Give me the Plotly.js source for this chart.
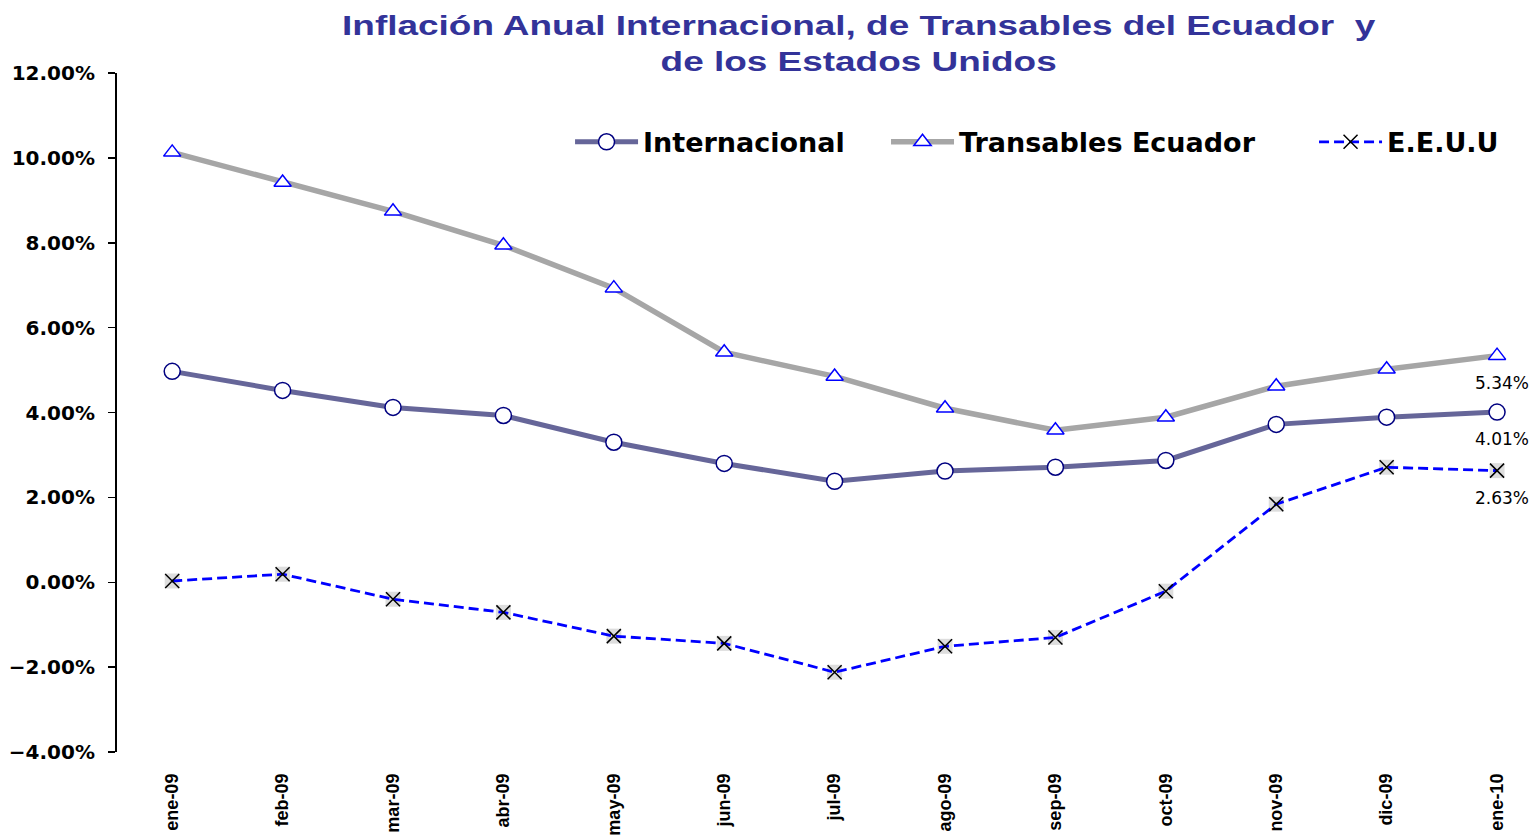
<!DOCTYPE html>
<html>
<head>
<meta charset="utf-8">
<script src="https://cdn.plot.ly/plotly-3.0.1.min.js"></script>
<style>
html,body{margin:0;padding:0;background:#fff;}
#chart{width:1539px;height:839px;}
#chart .gtitle{transform-box:fill-box;transform-origin:center;transform:scaleX(1.32);}
</style>
</head>
<body>
<div id="chart"></div>
<script>
const months = ["ene-09","feb-09","mar-09","abr-09","may-09","jun-09","jul-09","ago-09","sep-09","oct-09","nov-09","dic-09","ene-10"];
const internacional = [4.97, 4.52, 4.12, 3.93, 3.30, 2.80, 2.38, 2.62, 2.71, 2.87, 3.72, 3.89, 4.01];
const transables = [10.13, 9.42, 8.74, 7.94, 6.93, 5.42, 4.85, 4.10, 3.58, 3.89, 4.62, 5.02, 5.34];
const eeuu = [0.03, 0.19, -0.40, -0.71, -1.27, -1.44, -2.12, -1.51, -1.30, -0.21, 1.84, 2.71, 2.63];
const seriesNames = ["Internacional", "Transables Ecuador", "E.E.U.U"];

const FONT = "Liberation Sans, Arial, sans-serif";
const WIDE = "DejaVu Sans, sans-serif";
const last = months.length - 1;

const traces = [
  {
    x: months, y: transables, name: seriesNames[1], type: "scatter", mode: "lines+markers",
    legend: "legend2",
    line: {color: "#A6A6A6", width: 5.5},
    marker: {symbol: "triangle-up", size: 15, color: "#FFFFFF", line: {color: "#0000FF", width: 1.5}}
  },
  {
    x: months, y: internacional, name: seriesNames[0], type: "scatter", mode: "lines+markers",
    legend: "legend",
    line: {color: "#666699", width: 5},
    marker: {symbol: "circle", size: 16, color: "#FFFFFF", line: {color: "#000080", width: 1.5}}
  },
  {
    x: months, y: eeuu, name: "fondo", type: "scatter", mode: "markers", showlegend: false, hoverinfo: "skip",
    marker: {symbol: "square", size: 15, color: "#DDDDDD", line: {width: 0}}
  },
  {
    x: months, y: eeuu, name: seriesNames[2], type: "scatter", mode: "lines+markers",
    legend: "legend3",
    line: {color: "#0000FF", width: 2.8, dash: "10px,5px"},
    marker: {symbol: "x-thin", size: 14, color: "#000000", line: {color: "#000000", width: 1.5}}
  }
];

const labelSeries = [transables, internacional, eeuu];
const annotations = labelSeries.map(arr => ({
  x: months[last], y: arr[last], xref: "x", yref: "y",
  text: arr[last].toFixed(2) + "%", showarrow: false,
  xshift: 5, yshift: -27,
  font: {family: WIDE, size: 17, color: "#000"}
}));

const legendFont = {family: WIDE, size: 27, color: "#000", weight: "bold"};
function mkLegend(x){
  return {orientation: "h", x: x, xanchor: "left", y: 0.898, yanchor: "middle",
          font: legendFont, itemwidth: 63, bgcolor: "rgba(0,0,0,0)"};
}

const xr = [-0.5, 12.38];
const layout = {
  width: 1539, height: 839,
  margin: {l: 117, r: 0, t: 73, b: 87, autoexpand: false},
  paper_bgcolor: "#FFFFFF", plot_bgcolor: "#FFFFFF",
  font: {family: FONT, color: "#000"},
  title: {
    text: "Inflación Anual Internacional, de Transables del Ecuador  y<br>de los Estados Unidos",
    font: {family: FONT, size: 28, color: "#333399", weight: "bold"},
    x: 0.558, xref: "container", xanchor: "center",
    y: 0.9588, yref: "container", yanchor: "top"
  },
  showlegend: true,
  legend: mkLegend(0.3186),
  legend2: mkLegend(0.5408),
  legend3: mkLegend(0.8418),
  annotations: annotations,
  xaxis: {
    type: "category", range: xr, showline: false, ticks: "", showgrid: false, zeroline: false,
    tickangle: -90, tickfont: {family: FONT, size: 18, color: "#000", weight: "bold"},
    ticklabelstandoff: 17, automargin: false
  },
  xaxis2: {
    type: "linear", overlaying: "x", anchor: "free", position: 0.25, range: xr,
    tick0: 0.5, dtick: 1, ticks: "outside", ticklen: 7, tickwidth: 1.5, tickcolor: "#000",
    showline: true, linecolor: "#000", linewidth: 2.5, showticklabels: false, showgrid: false, zeroline: false
  },
  yaxis: {
    range: [-4, 12], dtick: 2, tickformat: ".2f", ticksuffix: "%",
    showline: true, linecolor: "#000", linewidth: 2, ticks: "outside", ticklen: 7, tickwidth: 1.5, tickcolor: "#000",
    showgrid: false, zeroline: false, ticklabelstandoff: 9, automargin: false,
    tickfont: {family: WIDE, size: 20, color: "#000", weight: "bold"}
  }
};

Plotly.newPlot("chart", traces, layout, {displayModeBar: false, staticPlot: true});
</script>
</body>
</html>
